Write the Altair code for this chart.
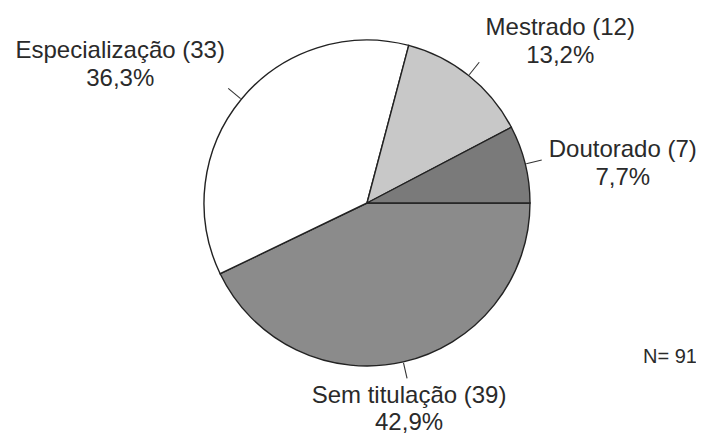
import altair as alt
import pandas as pd
import numpy as np

# ---- data ----
categories = ["Sem titulação", "Especialização", "Mestrado", "Doutorado"]
counts = [39, 33, 12, 7]
percent_labels = ["42,9%", "36,3%", "13,2%", "7,7%"]
fill_colors = ["#8b8b8b", "#ffffff", "#c8c8c8", "#7a7a7a"]
n_label = "N= 91"

# ---- layout constants ----
W, H = 688, 429
CX, CY = 359, 195
R = 163
R_IN, R_OUT = 164, 180
FONT = "Liberation Sans"
TXT = "#2a2a2a"
FS = 24
LH = 28

total = sum(counts)
cnt = np.array(counts, dtype=float)
cum = np.concatenate([[0.0], np.cumsum(cnt)[:-1]])
mid = np.pi / 2 + 2 * np.pi * (cum + cnt / 2) / total

df = pd.DataFrame({
    "cat": categories,
    "n": counts,
    "order": list(range(len(categories))),
    "label": [f"{c} ({n})\n{p}" for c, n, p in zip(categories, counts, percent_labels)],
    "x1": CX + R_IN * np.sin(mid),
    "y1": CY - R_IN * np.cos(mid),
    "x2": CX + R_OUT * np.sin(mid),
    "y2": CY - R_OUT * np.cos(mid),
})

pie = alt.Chart(df).mark_arc(
    outerRadius=R, stroke="#222222", strokeWidth=1.4, x=CX, y=CY
).encode(
    theta=alt.Theta("n:Q", stack=True,
                    scale=alt.Scale(range=[np.pi / 2, np.pi / 2 + 2 * np.pi])),
    color=alt.Color("cat:N", scale=alt.Scale(domain=categories, range=fill_colors),
                    legend=None),
    order=alt.Order("order:Q"),
)

leaders = alt.Chart(df).mark_rule(color="#333333", strokeWidth=1.1).encode(
    x=alt.X("x1:Q", scale=None, axis=None),
    y=alt.Y("y1:Q", scale=None, axis=None),
    x2="x2:Q",
    y2="y2:Q",
)

offsets = {
    "Sem titulação": (2, 25, 27),
    "Especialização": (-108, -30, LH),
    "Mestrado": (81, -27, LH),
    "Doutorado": (81, -3, LH),
}

text_layers = []
for c in categories:
    dx, dy, lh = offsets[c]
    t = alt.Chart(df).transform_filter(alt.datum.cat == c).mark_text(
        dx=dx, dy=dy, align="center", baseline="alphabetic",
        lineBreak="\n", lineHeight=lh, fontSize=FS, font=FONT, color=TXT,
    ).encode(
        x=alt.X("x2:Q", scale=None, axis=None),
        y=alt.Y("y2:Q", scale=None, axis=None),
        text="label:N",
    )
    text_layers.append(t)

n_text = alt.Chart(pd.DataFrame({"t": [n_label]})).mark_text(
    x=662, y=355, align="center", baseline="alphabetic",
    fontSize=20, font=FONT, color=TXT,
).encode(text="t:N")

chart = alt.layer(pie, leaders, *text_layers, n_text).properties(
    width=W, height=H, padding=0, autosize="none", background="white"
).configure_view(stroke=None)

chart.save("out.html", embed_options={"renderer": "svg", "actions": False})
